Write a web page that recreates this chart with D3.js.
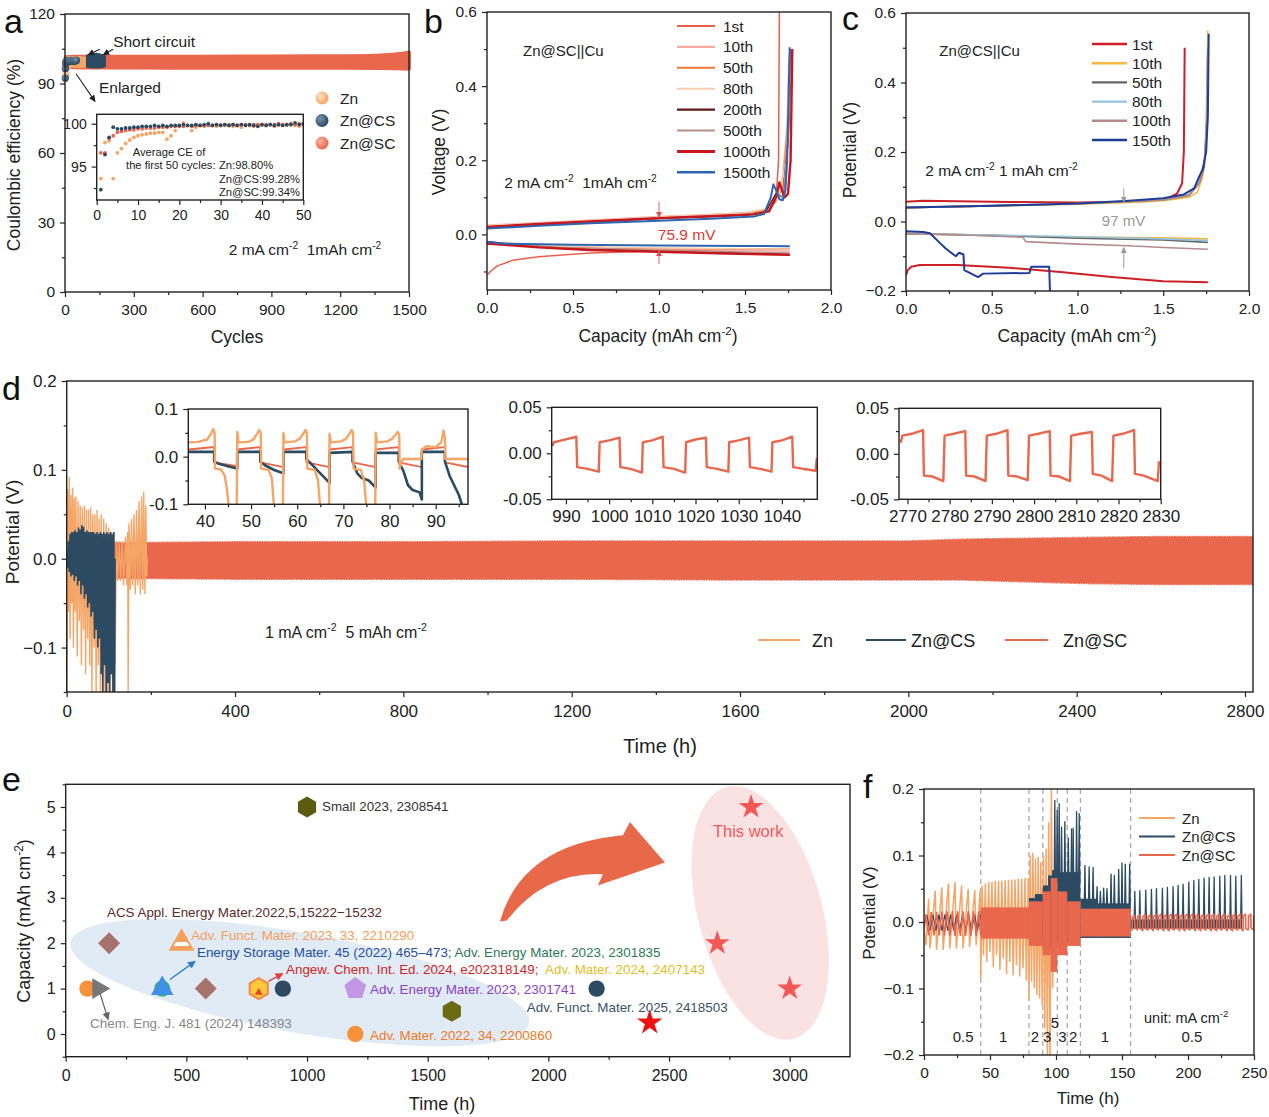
<!DOCTYPE html>
<html lang="en">
<head>
<meta charset="utf-8">
<title>Zn@SC anode cycling</title>
<script src="https://cdn.jsdelivr.net/npm/d3@7"></script>
<style>
  body { margin: 0; background: #fff; }
  svg text { font-family: Arial, "Liberation Sans", sans-serif; }
</style>
</head>
<body>
<svg id="fig" width="1269" height="1117"></svg>
<script>
// ---------------- data: panel a ----------------
const aInsetZn = [93.6, 97.8, 98.0, 93.6, 96.6, 97.1, 97.7, 98.1, 98.4, 98.6, 98.7, 98.8, 98.9, 98.9, 99.0, 99.0, 98.2, 98.6, 99.2, 99.8,
  100.1, 99.8, 99.2, 99.6, 99.8, 99.7, 99.9, 99.8, 99.7, 99.9, 99.8, 99.9, 99.7, 99.8, 99.6, 99.9, 99.8, 99.7, 99.9, 99.8,
  99.8, 99.9, 99.7, 99.8, 99.9, 99.8, 99.9, 99.8, 99.7, 99.9];
const aInsetCs = [92.3, 96.4, 98.4, 99.6, 99.4, 99.4, 99.5, 99.5, 99.6, 99.6, 99.7, 99.7, 99.7, 99.8, 99.7, 99.8, 99.7, 99.8, 99.8, 99.8,
  99.9, 99.8, 99.8, 99.9, 99.8, 99.9, 100.0, 99.8, 99.9, 99.8, 99.9, 99.8, 99.9, 99.8, 99.9, 99.8, 99.9, 99.8, 99.7, 99.9,
  99.8, 99.9, 99.8, 99.9, 99.8, 99.9, 99.9, 100.1, 99.9, 100.0];
const aInsetSc = [96.6, 96.6, 98.3, 98.6, 99.0, 99.1, 99.2, 99.3, 99.3, 99.4, 99.4, 99.5, 99.5, 99.5, 99.6, 99.6, 99.6, 99.7, 99.7, 99.7,
  99.7, 99.8, 99.7, 99.8, 99.8, 99.8, 99.8, 99.8, 99.9, 99.8, 99.9, 99.8, 99.9, 99.8, 99.9, 99.9, 99.8, 99.9, 99.9, 99.9,
  99.9, 99.9, 99.9, 100.0, 99.9, 99.9, 100.0, 99.9, 100.0, 99.9];
const aScT  = [3, 50, 150, 300, 600, 900, 1200, 1350, 1450, 1500];
const aScHi = [101.3, 101.5, 101.5, 101.6, 101.6, 101.7, 101.8, 102.0, 102.6, 103.4];
const aScLo = [97.3, 97.0, 96.9, 96.9, 96.8, 96.8, 96.8, 96.7, 96.6, 96.4];
const aZnT = [10, 60, 100], aZnHi = [101.0, 101.2, 100.8], aZnLo = [97.4, 97.3, 97.8];
const aCsT = [100, 135, 170], aCsHi = [101.8, 102.4, 101.6], aCsLo = [97.6, 97.3, 97.7];
const aSeries = ["Zn", "Zn@CS", "Zn@SC"];

// ---------------- data: panel b (capacity, voltage) ----------------
const bNames = ["1st", "10th", "50th", "80th", "200th", "500th", "1000th", "1500th"];
const bCharge = [
  [[0,0.022],[0.3,0.03],[0.6,0.037],[1.0,0.046],[1.3,0.053],[1.55,0.06],[1.64,0.068],[1.68,0.09],[1.695,0.2],[1.70,0.62]],
  [[0,0.025],[0.5,0.036],[1.0,0.048],[1.5,0.058],[1.63,0.068],[1.69,0.1],[1.72,0.16],[1.745,0.3],[1.755,0.48]],
  [[0,0.02],[0.5,0.033],[1.0,0.045],[1.5,0.055],[1.62,0.065],[1.68,0.1],[1.72,0.12],[1.75,0.3],[1.765,0.5]],
  [[0,0.024],[0.5,0.035],[1.0,0.047],[1.5,0.058],[1.63,0.07],[1.7,0.11],[1.74,0.2],[1.76,0.45]],
  [[0,0.018],[0.5,0.031],[1.0,0.043],[1.5,0.052],[1.62,0.06],[1.68,0.11],[1.72,0.1],[1.75,0.25],[1.77,0.5]],
  [[0,0.02],[0.5,0.032],[1.0,0.044],[1.5,0.053],[1.63,0.062],[1.69,0.11],[1.72,0.1],[1.75,0.25],[1.77,0.5]],
  [[0,0.02],[0.3,0.028],[0.6,0.035],[1.0,0.044],[1.3,0.049],[1.55,0.054],[1.64,0.062],[1.68,0.1],[1.70,0.14],[1.715,0.12],[1.73,0.1],[1.75,0.11],[1.765,0.2],[1.77,0.35],[1.775,0.5]],
  [[0,0.016],[0.3,0.023],[0.6,0.03],[1.0,0.037],[1.3,0.042],[1.55,0.048],[1.61,0.055],[1.65,0.1],[1.665,0.135],[1.68,0.12],[1.70,0.095],[1.72,0.092],[1.735,0.12],[1.745,0.2],[1.755,0.4],[1.76,0.505]]
];
const bDischarge = [
  [[0,-0.11],[0.02,-0.1],[0.06,-0.085],[0.15,-0.07],[0.3,-0.06],[0.6,-0.05],[1.0,-0.045],[1.4,-0.042],[1.76,-0.04]],
  [[0,-0.02],[0.3,-0.03],[1.0,-0.04],[1.76,-0.045]],
  [[0,-0.025],[0.5,-0.035],[1.0,-0.038],[1.76,-0.04]],
  [[0,-0.022],[0.5,-0.033],[1.0,-0.037],[1.76,-0.04]],
  [[0,-0.02],[0.1,-0.025],[0.4,-0.037],[1.0,-0.045],[1.5,-0.05],[1.76,-0.055]],
  [[0,-0.022],[0.4,-0.035],[1.0,-0.043],[1.76,-0.05]],
  [[0,-0.025],[0.1,-0.028],[0.3,-0.035],[0.6,-0.042],[1.0,-0.047],[1.4,-0.052],[1.76,-0.055]],
  [[0,-0.02],[0.1,-0.025],[0.5,-0.028],[1.0,-0.03],[1.5,-0.031],[1.76,-0.032]]
];

// ---------------- data: panel c ----------------
const cNames = ["1st", "10th", "50th", "80th", "100th", "150th"];
const cCharge = [
  [[0,0.057],[0.1,0.06],[0.3,0.058],[0.6,0.056],[1.0,0.055],[1.3,0.056],[1.45,0.06],[1.53,0.068],[1.58,0.08],[1.61,0.11],[1.62,0.2],[1.625,0.5]],
  [[0,0.04],[0.5,0.045],[1.0,0.05],[1.3,0.055],[1.5,0.06],[1.65,0.07],[1.7,0.085],[1.73,0.13],[1.745,0.2],[1.755,0.4],[1.76,0.55]],
  [[0,0.04],[0.5,0.045],[1.0,0.051],[1.5,0.062],[1.65,0.075],[1.71,0.11],[1.74,0.16],[1.755,0.3],[1.76,0.5]],
  [[0,0.04],[0.5,0.046],[1.0,0.052],[1.5,0.063],[1.65,0.078],[1.7,0.11],[1.74,0.17],[1.755,0.3],[1.76,0.5]],
  [[0,0.04],[0.5,0.045],[1.0,0.051],[1.5,0.062],[1.65,0.076],[1.71,0.11],[1.74,0.17],[1.755,0.3],[1.76,0.5]],
  [[0,0.04],[0.5,0.045],[1.0,0.052],[1.3,0.06],[1.5,0.067],[1.62,0.078],[1.68,0.095],[1.71,0.13],[1.73,0.15],[1.75,0.2],[1.76,0.3],[1.765,0.54]]
];
const cDischarge = [
  [[0,-0.155],[0.01,-0.14],[0.03,-0.13],[0.08,-0.125],[0.3,-0.125],[0.6,-0.133],[0.9,-0.145],[1.2,-0.16],[1.5,-0.172],[1.76,-0.175]],
  [[0,-0.035],[0.5,-0.04],[1.0,-0.045],[1.5,-0.047],[1.76,-0.05]],
  [[0,-0.035],[0.5,-0.04],[1.0,-0.048],[1.5,-0.053],[1.76,-0.06]],
  [[0,-0.035],[0.5,-0.039],[1.0,-0.044],[1.5,-0.05],[1.76,-0.055]],
  [[0,-0.035],[0.3,-0.038],[0.68,-0.045],[0.7,-0.058],[1.0,-0.065],[1.3,-0.07],[1.5,-0.075],[1.76,-0.08]],
  [[0,-0.028],[0.1,-0.03],[0.14,-0.034],[0.2,-0.063],[0.23,-0.077],[0.29,-0.1],[0.31,-0.09],[0.335,-0.095],[0.34,-0.14],[0.40,-0.155],[0.42,-0.16],[0.45,-0.15],[0.72,-0.148],[0.73,-0.13],[0.835,-0.13],[0.84,-0.21]]
];

// ---------------- data: panel d (time h, potential V) ----------------
const dScT  = [0, 115, 400, 800, 1200, 1600, 2000, 2130, 2420, 2600, 2819];
const dScHi = [0.017, 0.018, 0.019, 0.019, 0.02, 0.02, 0.02, 0.022, 0.024, 0.025, 0.025];
const dScLo = [-0.022, -0.022, -0.023, -0.023, -0.023, -0.024, -0.024, -0.024, -0.028, -0.029, -0.029];
const dZn = [[0,0.0],[1,-0.15],[2,0.078],[4,-0.06],[6,0.092],[8,-0.09],[10,0.072],[12,-0.05],[14,0.08],[16,-0.1],[18,0.068],[20,-0.06],
  [22,0.07],[25,-0.11],[27,0.065],[30,-0.07],[32,0.06],[35,-0.12],[37,0.058],[40,-0.08],[42,0.06],[45,-0.13],[47,0.055],[50,-0.09],
  [52,0.055],[55,-0.12],[57,0.058],[60,-0.15],[62,0.05],[65,-0.1],[67,0.05],[70,-0.15],[72,0.055],[75,-0.12],[77,0.045],[80,-0.15],
  [82,0.05],[85,-0.15],[88,0.045],[91,-0.15],[94,0.04],[97,-0.15],[100,0.035],[103,-0.15],[106,0.03],[109,-0.15],[112,0.03],[115,-0.12],
  [118,0.02],[121,-0.025],[125,0.02],[128,-0.025],[132,0.02],[135,-0.03],[140,0.025],[143,-0.03],[145,0.03],[146,-0.15],[148,0.04],
  [151,-0.035],[154,0.045],[157,-0.03],[160,0.05],[163,-0.04],[166,0.055],[169,-0.03],[172,0.065],[175,-0.04],[178,0.07],[181,-0.035],
  [183,0.075],[186,-0.04],[188,0.06],[190,-0.02],[192,0.0]];
const dCs = [[0,0.0],[2,-0.01],[4,0.02],[6,-0.015],[8,0.028],[10,-0.02],[12,0.03],[14,-0.018],[16,0.03],[18,-0.025],[20,0.032],[22,-0.02],
  [24,0.03],[26,-0.03],[28,0.035],[30,-0.025],[32,0.033],[34,-0.04],[36,0.038],[38,-0.03],[40,0.036],[42,-0.045],[44,0.03],[46,-0.04],
  [48,0.032],[50,-0.055],[52,0.03],[54,-0.05],[56,0.03],[58,-0.065],[60,0.03],[62,-0.06],[64,0.03],[66,-0.09],[68,0.028],[70,-0.08],
  [72,0.03],[74,-0.1],[76,0.028],[78,-0.09],[80,0.03],[82,-0.13],[84,0.028],[86,-0.15],[88,0.03],[90,-0.12],[92,0.028],[94,-0.15],
  [96,0.03],[98,-0.14],[100,0.028],[102,-0.15],[104,0.03],[106,-0.13],[108,0.028],[110,-0.15],[112,0.03],[114,-0.15],[115,0.0]];
// inset 1 (40-90 h)
const d1Sc = [[36.4,0.015],[42,0.02],[42,-0.012],[47,-0.02],[47,0.015],[52,0.02],[52,-0.012],[57,-0.022],[57,0.015],[62,0.02],[62,-0.012],
  [67,-0.022],[67,0.015],[72,0.02],[72,-0.012],[77,-0.022],[77,0.015],[82,0.02],[82,-0.012],[87,-0.022],[87,0.015],[92,0.02],[92,-0.012],[97,-0.022]];
const d1Cs = [[36.4,0.01],[42,0.01],[42,-0.01],[43,-0.015],[45,-0.02],[47,-0.025],[47,0.01],[52,0.01],[52,-0.01],[53,-0.018],[55,-0.028],
  [57,-0.035],[57,0.01],[62,0.01],[62,-0.005],[63.5,-0.02],[65,-0.035],[67,-0.055],[67,0.008],[72,0.01],[72,-0.01],[73,-0.035],[74,-0.045],
  [75.5,-0.05],[77,-0.065],[77,0.008],[82,0.008],[82,-0.01],[83,-0.03],[84,-0.06],[85,-0.07],[86.5,-0.075],[87,-0.09],[87,0.01],[92,0.01],
  [92,-0.01],[93,-0.04],[94,-0.06],[95,-0.08],[96,-0.11]];
const d1Zn = [[36.4,0.03],[38.5,0.031],[40.5,0.036],[41.3,0.048],[41.8,0.058],[42.1,0.05],[42.2,-0.025],[43.5,-0.027],[44.3,-0.04],[44.8,-0.07],
  [45.2,-0.11],[46.9,-0.11],[47,0.052],[47.3,0.03],[49.5,0.031],[50.5,0.036],[51.3,0.048],[51.8,0.056],[52.1,0.05],[52.2,-0.025],[53.8,-0.028],
  [54.5,-0.045],[55,-0.11],[56.9,-0.11],[57,0.05],[57.3,0.03],[59.5,0.032],[60.5,0.037],[61.3,0.048],[61.8,0.056],[62.1,0.05],[62.2,-0.025],
  [63.8,-0.028],[64.5,-0.05],[65,-0.11],[66.9,-0.11],[67,0.048],[67.3,0.03],[69.5,0.032],[70.5,0.037],[71.3,0.048],[71.8,0.056],[72.1,0.05],
  [72.2,-0.025],[73.8,-0.028],[74.5,-0.05],[75,-0.11],[76.9,-0.11],[77,0.05],[77.3,0.03],[79.5,0.032],[80.5,0.037],[81.3,0.046],[81.8,0.052],
  [82.1,0.045],[82.2,-0.025],[82.6,-0.01],[83,-0.005],[86.9,-0.005],[87,0.015],[88,0.022],[90,0.02],[91.2,0.03],[91.7,0.055],[92,0.04],
  [92.1,-0.005],[97,-0.005]];
// inset 2 (990-1040 h)
const d2Sc = [[986.8,0.008],[987.2,0.012],[989,0.014],[992.4,0.018],[992.6,-0.015],[995,-0.017],[997.6,-0.02],[997.8,0.012],[1000,0.014],
  [1002.4,0.017],[1002.6,-0.015],[1005,-0.017],[1007.6,-0.021],[1007.8,0.012],[1010,0.014],[1012.4,0.018],[1012.6,-0.015],[1015,-0.017],
  [1017.6,-0.021],[1017.8,0.012],[1020,0.015],[1022.4,0.017],[1022.6,-0.015],[1025,-0.017],[1027.6,-0.02],[1027.8,0.012],[1030,0.014],
  [1032.4,0.017],[1032.6,-0.015],[1035,-0.017],[1037.6,-0.02],[1037.8,0.012],[1040,0.014],[1042.4,0.018],[1042.6,-0.015],[1045,-0.017],
  [1047.8,-0.019],[1048.1,-0.005]];
// inset 3 (2770-2830 h)
const d3Sc = [[2768.4,0.012],[2768.8,0.02],[2771,0.022],[2773.7,0.026],[2773.9,-0.024],[2776,-0.025],[2778.5,-0.03],[2778.8,0.02],[2781,0.022],
  [2783.7,0.025],[2783.9,-0.024],[2786,-0.025],[2788.5,-0.03],[2788.8,0.02],[2791,0.022],[2793.7,0.026],[2793.9,-0.024],[2796,-0.025],
  [2798.5,-0.029],[2798.8,0.02],[2801,0.022],[2803.7,0.025],[2803.9,-0.024],[2806,-0.025],[2808.5,-0.03],[2808.8,0.02],[2811,0.022],
  [2813.7,0.024],[2813.9,-0.022],[2816,-0.024],[2818.5,-0.03],[2818.8,0.02],[2821,0.022],[2823.7,0.026],[2823.9,-0.022],[2826,-0.024],
  [2829.3,-0.03],[2829.6,-0.008]];

// ---------------- data: panel e (time h, capacity mAh cm-2) ----------------
const eTime  = [90, 135, 180, 400, 400, 480, 580, 800, 900, 1000, 1200, 1200, 1600, 2200, 2420];
const eCap   = [1, 1, 2, 1, 1, 2, 1, 1, 1, 5, 1, 0, 0.5, 1, 0.25];
const eShape = ["circle", "triRight", "diamond", "circle", "triUp", "triBand", "diamond", "hexFlame", "circle", "hexagon", "pentagon", "circle", "hexagon", "circle", "star"];
const workTime = [2840, 2700, 3000];
const workCap  = [5, 2, 1];
const eRefText = ["Small 2023, 2308541", "ACS Appl. Energy Mater.2022,5,15222\u221215232", "Adv. Funct. Mater. 2023, 33, 2210290",
  "Energy Storage Mater. 45 (2022) 465\u2013473; ", "Adv. Energy Mater. 2023, 2301835", "Angew. Chem. Int. Ed. 2024, e202318149; ",
  " Adv. Mater. 2024, 2407143", "Adv. Energy Mater. 2023, 2301741", "Chem. Eng. J. 481 (2024) 148393",
  "Adv. Mater. 2022, 34, 2200860", "Adv. Funct. Mater. 2025, 2418503"];
const eRefAt = [[1062, 4.91], [171, 2.57], [520, 2.08], [544, 1.70], null, [913, 1.33], null, [1261, 0.89], [101, 0.14], [1261, -0.13], [1911, 0.49]];

// ---------------- data: panel f (time h, potential V) ----------------
const fRateEdges = [43, 79.5, 90, 101, 108.5, 118.5, 156.5];
const fRateLabel = ["0.5", "1", "2", "3", "5", "3", "2", "1", "0.5"];
const fRateT = [29.7, 60, 84, 93.4, 99.2, 104.8, 113, 137, 203];
const fRateV = [-0.18, -0.18, -0.18, -0.18, -0.16, -0.18, -0.18, -0.18, -0.18];
const fZn = [[0,-0.01],[1.5,-0.035],[3.5,0.035],[4.5,-0.04],[8.5,0.047],[9.5,-0.042],[13.5,0.052],[14.5,-0.042],[18.5,0.058],[19.5,-0.04],
  [23.5,0.06],[24.5,-0.04],[28.5,0.055],[29.5,-0.04],[33.5,0.05],[34.5,-0.038],[38.5,0.048],[39.5,-0.035],[42.5,0.046],[43,-0.085],
  [44,0.055],[45,-0.05],[46.5,0.058],[47.5,-0.06],[49,0.06],[50,-0.045],[51.5,0.06],[52.5,-0.068],[54,0.062],[55,-0.05],[56.5,0.062],
  [57.5,-0.072],[59,0.062],[60,-0.055],[61.5,0.063],[62.5,-0.078],[64,0.063],[65,-0.06],[66.5,0.064],[67.5,-0.08],[69,0.064],[70,-0.065],
  [71.5,0.065],[72.5,-0.082],[74,0.065],[75,-0.07],[76.5,0.066],[77.5,-0.088],[79,0.066],[79.5,-0.118],[80.5,0.1],[81.5,-0.09],
  [82.5,0.104],[83.5,-0.1],[84.5,0.095],[85.5,-0.11],[86.5,0.098],[87.5,-0.115],[88.5,0.09],[89.5,-0.125],[90.5,0.1],[91.5,-0.16],
  [92.5,0.11],[93.5,-0.21],[94.5,0.15],[95.5,-0.21],[96.5,0.205],[97.5,-0.1],[98.5,0.04],[99.2,-0.07],[99.8,0.0]];
const fCsEarly = [[0,-0.005],[2.2,0.01],[4.5,-0.013],[6.8,0.011],[9,-0.013],[11.3,0.011],[13.5,-0.013],[15.8,0.011],[18,-0.013],[20.3,0.011],
  [22.5,-0.013],[24.8,0.011],[27,-0.013],[29.3,0.011],[31.5,-0.013],[33.8,0.011],[36,-0.013],[38.3,0.011],[40.5,-0.013],[42.8,0.011]];
const fCsBands = [[43,79.5,0.018,-0.02],[79.5,84,0.036,-0.03],[84,90,0.042,-0.03],[90,94,0.055,-0.04],[94,97,0.07,-0.04],[97,101,0.078,-0.04],
  [101,118.5,0.075,-0.03],[118.5,131,0.035,-0.024],[131,156.5,0.028,-0.024],[156.5,241,0.004,-0.01]];
const fCsSpikeT = [99.1, 100.9, 102.4, 104.2, 106.7, 109.3, 111.8, 113, 115.6, 117.6,
  121.9, 125.1, 128.1, 131.1, 133.6, 136.1, 138.6, 141.7, 144.2, 147.5, 150, 152.5, 155.8,
  159.7, 163.5, 168, 172.3, 176.1, 180.6, 184.4, 188.7, 192.5, 196.3, 200.6, 204.4, 208.2, 212.2, 216, 219.8, 224.1, 227.9, 232.2, 236.2, 240.4];
const fCsSpikeV = [0.183, 0.168, 0.178, 0.143, 0.151, 0.126, 0.14, 0.141, 0.166, 0.163,
  0.085, 0.083, 0.082, 0.053, 0.046, 0.051, 0.05, 0.072, 0.07, 0.079, 0.089, 0.087, 0.087,
  0.046, 0.047, 0.048, 0.049, 0.05, 0.051, 0.052, 0.053, 0.055, 0.057, 0.06, 0.062, 0.064, 0.066, 0.067, 0.068, 0.069, 0.07, 0.07, 0.069, 0.07];
const fCsSpikeBase = [0.06, 0.06, 0.06, 0.06, 0.06, 0.06, 0.06, 0.06, 0.06, 0.06,
  0.03, 0.03, 0.03, 0.025, 0.025, 0.025, 0.025, 0.025, 0.025, 0.025, 0.025, 0.025, 0.025,
  0.004, 0.004, 0.004, 0.004, 0.004, 0.004, 0.004, 0.004, 0.004, 0.004, 0.004, 0.004, 0.004, 0.004, 0.004, 0.004, 0.004, 0.004, 0.004, 0.004, 0.004];
const fScBands = [[43,79.5,0.022,-0.025],[79.5,90,0.031,-0.036],[90,96,0.046,-0.05],[96,101,0.066,-0.075],[101,108.5,0.046,-0.05],
  [108.5,118.5,0.031,-0.036],[118.5,156.5,0.02,-0.022]];
const fScEarly = [[0,-0.01],[1.5,0.012],[3.5,-0.02],[5.5,0.015],[7.5,-0.02],[9.5,0.015],[11.5,-0.02],[13.5,0.016],[15.5,-0.02],[17.5,0.016],
  [19.5,-0.021],[21.5,0.016],[23.5,-0.021],[25.5,0.016],[27.5,-0.021],[29.5,0.016],[31.5,-0.021],[33.5,0.016],[35.5,-0.021],[37.5,0.016],
  [39.5,-0.021],[41.5,0.016],[43,-0.02]];
// 0.5 mA cm-2 tail: start of each charge half-cycle and its plateau levels
const fScLateT  = [157.7, 161.7, 165.7, 169.7, 173.7, 177.7, 181.7, 185.7, 189.7, 193.7, 197.7, 201.7, 205.7, 209.7, 213.7, 217.7,
  221.7, 225.7, 229.7, 233.7, 237.7, 241.7, 245.7, 249.7];
const fScLateHi = [0.010, 0.011, 0.011, 0.011, 0.011, 0.012, 0.011, 0.012, 0.012, 0.011, 0.012, 0.012, 0.012, 0.011, 0.012, 0.012,
  0.012, 0.012, 0.011, 0.012, 0.012, 0.012, 0.012, 0.012];
const fScLateLo = [-0.012, -0.012, -0.013, -0.012, -0.013, -0.012, -0.013, -0.013, -0.012, -0.013, -0.013, -0.012, -0.013, -0.013, -0.012,
  -0.013, -0.013, -0.012, -0.013, -0.013, -0.012, -0.013, -0.012, -0.012];

// ---------------- styles ----------------
const INK = "#222";
const C_ZN = "#f5a566", C_CS = "#2c4b63", C_SC = "#e9674d";
const bColors = ["#ea5f4b", "#f6aaa2", "#f07832", "#f7cdb2", "#5a1c14", "#b59089", "#c8161e", "#2d65b0"];
const bWidths = [1.5, 1.5, 1.5, 1.5, 1.6, 1.5, 2.4, 2];
const cColors = ["#cc1f27", "#f6b843", "#666666", "#94c3e2", "#b48b8b", "#1f3d97"];
const eFill   = ["#f7923a", "#777777", "#a8726c", "#3cb878", "#3f8fe6", "#f5a05a", "#a8726c", "#ffc93a", "#2d4a60", "#5b5b12", "#c497e6", "#f7923a", "#6b6b16", "#2d4a60", "#ee1111"];
const eTextColor = ["#333333", "#5a2a2a", "#f5a05a", "#1f4fa0", "#2e7a55", "#d21f1f", "#e3be1e", "#8a3fc8", "#888888", "#f07a22", "#3b5266"];

const svg = d3.select("#fig");
const defs = svg.append("defs");

// ball gradients for the CE scatter
[["ballZn", "#fde0c4", C_ZN], ["ballCs", "#7a94aa", C_CS], ["ballSc", "#f8b4a4", C_SC]].forEach(([id, hi, base]) => {
  const g = defs.append("radialGradient").attr("id", id).attr("cx", "35%").attr("cy", "35%").attr("r", "65%");
  g.append("stop").attr("offset", "0%").attr("stop-color", hi);
  g.append("stop").attr("offset", "100%").attr("stop-color", base);
});
const band = defs.append("linearGradient").attr("id", "triBand").attr("x1", 0).attr("y1", 0).attr("x2", 0).attr("y2", 1);
[[0, "#f5a05a"], [0.6, "#f5a05a"], [0.6, "#ffffff"], [0.8, "#ffffff"], [0.8, "#f5a05a"], [1, "#f5a05a"]]
  .forEach(([o, c]) => band.append("stop").attr("offset", o).attr("stop-color", c));

function marker(id, color, size) {
  defs.append("marker").attr("id", id).attr("viewBox", "0 0 10 10").attr("refX", 9).attr("refY", 5)
    .attr("markerWidth", size).attr("markerHeight", size).attr("orient", "auto-start-reverse")
    .append("path").attr("d", "M0,0L10,5L0,10Z").attr("fill", color);
}
marker("arK", "#222", 6); marker("arR", "#e05050", 6); marker("arG", "#999", 6);
marker("arB", "#2a7bd0", 6); marker("arRed", "#e04040", 6); marker("arGr", "#666", 6);

function frame(id, box, xd, yd) {
  const x = d3.scaleLinear().domain(xd).range([box.l, box.r]);
  const y = d3.scaleLinear().domain(yd).range([box.b, box.t]);
  const g = svg.append("g");
  defs.append("clipPath").attr("id", id).append("rect")
    .attr("x", box.l).attr("y", box.t).attr("width", box.r - box.l).attr("height", box.b - box.t);
  const plot = g.append("g").attr("clip-path", `url(#${id})`);
  return { g, plot, x, y, box };
}

function axes(P, o) {
  const { g, x, y, box } = P;
  const fs = o.fs || 15;
  const tidy = s => {
    s.select(".domain").remove();
    s.attr("font-size", fs).attr("font-family", null);
    s.selectAll("line").attr("stroke", INK).attr("stroke-width", 1.2);
    s.selectAll("text").attr("fill", INK);
  };
  const none = () => "";
  if (o.xm) g.append("g").attr("transform", `translate(0,${box.b})`)
    .call(d3.axisBottom(x).tickValues(o.xm).tickSize(3).tickFormat(none)).call(tidy);
  g.append("g").attr("transform", `translate(0,${box.b})`)
    .call(d3.axisBottom(x).tickValues(o.xt).tickSize(5).tickPadding(o.xpad ?? 7).tickFormat(o.xf || (d => d))).call(tidy);
  if (o.ym) g.append("g").attr("transform", `translate(${box.l},0)`)
    .call(d3.axisLeft(y).tickValues(o.ym).tickSize(3).tickFormat(none)).call(tidy);
  g.append("g").attr("transform", `translate(${box.l},0)`)
    .call(d3.axisLeft(y).tickValues(o.yt).tickSize(5).tickPadding(o.ypad ?? 5).tickFormat(o.yf || (d => d))).call(tidy);
  g.append("rect").attr("x", box.l).attr("y", box.t).attr("width", box.r - box.l).attr("height", box.b - box.t)
    .attr("fill", "none").attr("stroke", INK).attr("stroke-width", 1.4);
}

// text with ^{...} superscripts
function rich(g, x, y, str, fs, attrs = {}) {
  const t = g.append("text").attr("x", x).attr("y", y).attr("font-size", fs).attr("fill", INK).style("white-space", "pre");
  Object.entries(attrs).forEach(([k, v]) => t.attr(k, v));
  let raised = false;
  str.split(/\^\{([^}]*)\}/).forEach((p, i) => {
    if (i % 2) {
      t.append("tspan").attr("dy", -fs * 0.4).attr("font-size", fs * 0.66).text(p);
      raised = true;
    } else if (p) {
      const s = t.append("tspan").text(p);
      if (raised) { s.attr("dy", fs * 0.4); raised = false; }
    }
  });
  return t;
}
function yTitle(cx, cy, str, fs) {
  rich(svg, 0, 0, str, fs, { "text-anchor": "middle", transform: `translate(${cx},${cy}) rotate(-90)` });
}
function xTitle(cx, cy, str, fs) { rich(svg, cx, cy, str, fs, { "text-anchor": "middle" }); }
function letter(x, y, s) { svg.append("text").attr("x", x).attr("y", y).attr("font-size", 34).attr("fill", "#111").text(s); }

const lineOf = P => d3.line().x(d => P.x(d[0])).y(d => P.y(d[1]));
const f1 = d3.format(".1f");

// ================= panel a =================
const A = frame("clipA", { l: 65, r: 409, t: 14, b: 292 }, [0, 1500], [0, 120]);
const aArea = (T, H, L) => d3.area().curve(d3.curveMonotoneX).x((d, i) => A.x(T[i])).y0((d, i) => A.y(L[i])).y1((d, i) => A.y(H[i]))(T);
A.g.append("path").attr("d", aArea(aScT, aScHi, aScLo)).attr("fill", C_SC).attr("stroke", C_SC).attr("stroke-width", 4).attr("stroke-linejoin", "round");
const aCyc = d3.range(1, aInsetZn.length + 1);
[[aInsetSc, "ballSc"], [aInsetZn, "ballZn"]].forEach(([vals, grad]) => {
  A.g.append("g").selectAll("circle").data(vals).join("circle")
    .attr("cx", (d, i) => A.x(aCyc[i])).attr("cy", d => A.y(d)).attr("r", 3.6).attr("fill", `url(#${grad})`);
});
A.g.append("path").attr("d", aArea(aZnT, aZnHi, aZnLo)).attr("fill", C_ZN).attr("stroke", C_ZN).attr("stroke-width", 3).attr("stroke-linejoin", "round");
A.g.append("path").attr("d", aArea(aCsT, aCsHi, aCsLo)).attr("fill", C_CS).attr("stroke", C_CS).attr("stroke-width", 4).attr("stroke-linejoin", "round");
A.g.append("g").selectAll("circle").data(aInsetCs).join("circle")
  .attr("cx", (d, i) => A.x(aCyc[i])).attr("cy", d => A.y(d)).attr("r", 3.6).attr("fill", "url(#ballCs)");
axes(A, { xt: d3.range(0, 1501, 300), xm: d3.range(150, 1500, 300), yt: d3.range(0, 121, 30), ym: d3.range(15, 120, 30), fs: 15.5 });
A.g.append("text").attr("x", A.x(210)).attr("y", A.y(105.8)).attr("font-size", 15.5).attr("fill", INK).text("Short circuit");
A.g.append("text").attr("x", A.x(148)).attr("y", A.y(85.9)).attr("font-size", 15.5).attr("fill", INK).text("Enlarged");
[[[152, 104.8], [101, 102.4]], [[210, 104.8], [167, 102.4]], [[48, 94.2], [131, 82.3]]].forEach(([p, q]) => {
  A.g.append("line").attr("x1", A.x(p[0])).attr("y1", A.y(p[1])).attr("x2", A.x(q[0])).attr("y2", A.y(q[1]))
    .attr("stroke", INK).attr("stroke-width", 1.1).attr("marker-end", "url(#arK)");
});
rich(A.g, A.x(714), A.y(15.9), "2 mA cm^{-2}  1mAh cm^{-2}", 15.5);
aSeries.forEach((s, i) => {
  A.g.append("circle").attr("cx", 322).attr("cy", 98 + i * 22.5).attr("r", 6.5).attr("fill", `url(#${["ballZn", "ballCs", "ballSc"][i]})`);
  A.g.append("text").attr("x", 340).attr("y", 103.5 + i * 22.5).attr("font-size", 15.5).attr("fill", INK).text(s);
});
// inset a
const AI = frame("clipAI", { l: 96.7, r: 303.3, t: 114.3, b: 200 }, [0, 50], [91.1, 101.1]);
AI.g.insert("rect", ":first-child").attr("x", 96.7).attr("y", 114.3).attr("width", 206.6).attr("height", 85.7).attr("fill", "#fff");
[[aInsetZn, C_ZN], [aInsetSc, C_SC], [aInsetCs, C_CS]].forEach(([vals, col]) => {
  AI.plot.append("g").selectAll("circle").data(vals).join("circle")
    .attr("cx", (d, i) => AI.x(aCyc[i])).attr("cy", d => AI.y(d)).attr("r", 1.9).attr("fill", col);
});
axes(AI, { xt: d3.range(0, 51, 10), xm: d3.range(5, 50, 10), yt: [95, 100], ym: [92.5, 97.5], fs: 14, xpad: 5 });
AI.g.append("text").attr("x", AI.x(17.5)).attr("y", AI.y(96.25)).attr("text-anchor", "middle").attr("font-size", 11.2).attr("fill", INK).text("Average CE of");
AI.g.append("text").attr("x", AI.x(7.1)).attr("y", AI.y(94.7)).attr("font-size", 11.2).attr("fill", INK).text("the first 50 cycles:");
["Zn:98.80%", "Zn@CS:99.28%", "Zn@SC:99.34%"].forEach((s, i) => {
  AI.g.append("text").attr("x", AI.x(29.6)).attr("y", AI.y([94.7, 93.1, 91.6][i])).attr("font-size", 11.2).attr("fill", INK).text(s);
});
yTitle(20, 155, "Coulombic efficiency (%)", 17.5);
xTitle(237, 343, "Cycles", 17.5);
letter(4, 33, "a");

// ================= panel b =================
const B = frame("clipB", { l: 487, r: 831, t: 12, b: 290 }, [0, 2], [-0.15, 0.6]);
bNames.forEach((n, i) => {
  [bDischarge[i], bCharge[i]].forEach(pts => B.plot.append("path").attr("d", lineOf(B)(pts)).attr("fill", "none")
    .attr("stroke", bColors[i]).attr("stroke-width", bWidths[i]).attr("stroke-linejoin", "round"));
});
axes(B, { xt: [0, 0.5, 1, 1.5, 2], xm: [0.25, 0.75, 1.25, 1.75], yt: [0, 0.2, 0.4, 0.6], ym: [-0.1, 0.1, 0.3, 0.5], xf: f1, yf: f1, fs: 15.5 });
bNames.forEach((n, i) => {
  const yy = 26 + i * 20.9;
  B.g.append("line").attr("x1", 677).attr("x2", 715).attr("y1", yy).attr("y2", yy).attr("stroke", bColors[i]).attr("stroke-width", bWidths[i] + 0.6);
  B.g.append("text").attr("x", 723).attr("y", yy + 5.5).attr("font-size", 15.5).attr("fill", INK).text(n);
});
B.g.append("text").attr("x", B.x(0.21)).attr("y", B.y(0.482)).attr("font-size", 15).attr("fill", INK).text("Zn@SC||Cu");
rich(B.g, B.x(0.1), B.y(0.125), "2 mA cm^{-2}  1mAh cm^{-2}", 15.5);
B.g.append("text").attr("x", B.x(0.993)).attr("y", B.y(-0.016)).attr("font-size", 15.5).attr("fill", "#d83c3c").text("75.9 mV");
[[0.088, 0.046], [-0.08, -0.044]].forEach(([a, b]) => B.g.append("line").attr("x1", B.x(1)).attr("x2", B.x(1))
  .attr("y1", B.y(a)).attr("y2", B.y(b)).attr("stroke", "#e06060").attr("stroke-width", 1).attr("marker-end", "url(#arR)"));
yTitle(445, 152, "Voltage (V)", 17.5);
xTitle(658, 342, "Capacity (mAh cm^{-2})", 17.5);
letter(424, 33, "b");

// ================= panel c =================
const C = frame("clipC", { l: 906, r: 1249, t: 13, b: 291 }, [0, 2], [-0.2, 0.6]);
cNames.forEach((n, i) => {
  [cDischarge[i], cCharge[i]].forEach(pts => C.plot.append("path").attr("d", lineOf(C)(pts)).attr("fill", "none")
    .attr("stroke", cColors[i]).attr("stroke-width", i === 0 || i === 5 ? 2 : 1.6).attr("stroke-linejoin", "round"));
});
axes(C, { xt: [0, 0.5, 1, 1.5, 2], xm: [0.25, 0.75, 1.25, 1.75], yt: [-0.2, 0, 0.2, 0.4, 0.6], ym: [-0.1, 0.1, 0.3, 0.5], xf: f1, yf: f1, fs: 15.5 });
cNames.forEach((n, i) => {
  const yy = 44 + i * 19.2;
  C.g.append("line").attr("x1", 1092).attr("x2", 1127).attr("y1", yy).attr("y2", yy).attr("stroke", cColors[i]).attr("stroke-width", 2.4);
  C.g.append("text").attr("x", 1132).attr("y", yy + 5.5).attr("font-size", 15.5).attr("fill", INK).text(n);
});
C.g.append("text").attr("x", C.x(0.194)).attr("y", C.y(0.475)).attr("font-size", 15).attr("fill", INK).text("Zn@CS||Cu");
rich(C.g, C.x(0.112), C.y(0.131), "2 mA cm^{-2} 1 mAh cm^{-2}", 15.5);
C.g.append("text").attr("x", C.x(1.142)).attr("y", C.y(-0.014)).attr("font-size", 15).attr("fill", "#999").text("97 mV");
[[0.095, 0.056], [-0.135, -0.075]].forEach(([a, b]) => C.g.append("line").attr("x1", C.x(1.27)).attr("x2", C.x(1.27))
  .attr("y1", C.y(a)).attr("y2", C.y(b)).attr("stroke", "#999").attr("stroke-width", 1).attr("marker-end", "url(#arG)"));
yTitle(856, 150, "Potential (V)", 17.5);
xTitle(1077, 342, "Capacity (mAh cm^{-2})", 17.5);
letter(842, 30, "c");

// ================= panel d =================
const D = frame("clipD", { l: 66.7, r: 1253, t: 381, b: 692 }, [0, 2819], [-0.15, 0.2]);
D.plot.append("path")
  .attr("d", d3.area().x((d, i) => D.x(dScT[i])).y0((d, i) => D.y(dScLo[i])).y1((d, i) => D.y(dScHi[i]))(dScT))
  .attr("fill", C_SC).attr("stroke", C_SC).attr("stroke-width", 1.5).attr("stroke-dasharray", "1.5,1");
D.plot.append("path").attr("d", lineOf(D)(dZn)).attr("fill", "none").attr("stroke", C_ZN).attr("stroke-width", 1.4);
D.plot.append("path").attr("d", lineOf(D)(dCs)).attr("fill", "none").attr("stroke", C_CS).attr("stroke-width", 1.6);
axes(D, { xt: d3.range(0, 2801, 400), xm: d3.range(200, 2800, 400), yt: [-0.1, 0, 0.1, 0.2], ym: [-0.15, -0.05, 0.05, 0.15], yf: f1, fs: 17, xpad: 8 });
rich(D.g, D.x(471), D.y(-0.089), "1 mA cm^{-2}  5 mAh cm^{-2}", 16);
[["Zn", C_ZN, 758, 800, 812], ["Zn@CS", C_CS, 866, 906, 911], ["Zn@SC", C_SC, 1005, 1048, 1063]].forEach(([n, col, x1, x2, tx]) => {
  D.g.append("line").attr("x1", x1).attr("x2", x2).attr("y1", 640).attr("y2", 640).attr("stroke", col).attr("stroke-width", 2);
  D.g.append("text").attr("x", tx).attr("y", 646.5).attr("font-size", 18).attr("fill", INK).text(n);
});
yTitle(19, 532, "Potential (V)", 19);
xTitle(660, 753, "Time (h)", 20);
letter(2, 400, "d");

function inset(id, box, xd, yd, series, o) {
  const P = frame(id, box, xd, yd);
  P.g.insert("rect", ":first-child").attr("x", box.l).attr("y", box.t).attr("width", box.r - box.l).attr("height", box.b - box.t).attr("fill", "#fff");
  series.forEach(([pts, col, w]) => P.plot.append("path").attr("d", lineOf(P)(pts)).attr("fill", "none")
    .attr("stroke", col).attr("stroke-width", w).attr("stroke-linejoin", "round"));
  axes(P, o);
  return P;
}
inset("clipD1", { l: 188.3, r: 468, t: 409, b: 504.3 }, [36.4, 97], [-0.1, 0.1],
  [[d1Sc, C_SC, 2], [d1Cs, C_CS, 2.6], [d1Zn, C_ZN, 2.4]],
  { xt: d3.range(40, 91, 10), xm: d3.range(45, 96, 10), yt: [-0.1, 0, 0.1], ym: [-0.05, 0.05], yf: d => d.toFixed(1), fs: 17, xpad: 6 });
inset("clipD2", { l: 551.7, r: 817.3, t: 407.3, b: 499.3 }, [986.7, 1048.2], [-0.05, 0.05],
  [[d2Sc, C_SC, 2.4]],
  { xt: d3.range(990, 1041, 10), xm: d3.range(995, 1046, 10), yt: [-0.05, 0, 0.05], ym: [-0.025, 0.025], yf: d => d.toFixed(2), fs: 17, xpad: 6 });
inset("clipD3", { l: 899, r: 1160.7, t: 408.3, b: 499.3 }, [2768, 2830], [-0.05, 0.05],
  [[d3Sc, C_SC, 2.4]],
  { xt: d3.range(2770, 2831, 10), xm: d3.range(2775, 2830, 10), yt: [-0.05, 0, 0.05], ym: [-0.025, 0.025], yf: d => d.toFixed(2), fs: 17, xpad: 6 });

// ================= panel e =================
const E = frame("clipE", { l: 65.7, r: 850, t: 784.3, b: 1056.7 }, [0, 3250], [-0.5, 5.5]);
const dxPx = v => E.x(v) - E.x(0), dyPx = v => E.y(0) - E.y(v);
E.plot.append("ellipse").attr("cx", 0).attr("cy", 0).attr("rx", dxPx(965)).attr("ry", dyPx(1.1))
  .attr("transform", `translate(${E.x(970)},${E.y(1.13)}) rotate(10)`).attr("fill", "#c9dbee").attr("opacity", 0.55);
E.plot.append("ellipse").attr("cx", 0).attr("cy", 0).attr("rx", dxPx(257)).attr("ry", dyPx(2.87))
  .attr("transform", `translate(${E.x(2878)},${E.y(2.67)}) rotate(-15)`).attr("fill", "#f9d6d6").attr("opacity", 0.7);
// big curved arrow
const ap = d3.path();
const E2 = (t, c) => [E.x(t), E.y(c)];
ap.moveTo(...E2(1799, 2.48));
ap.quadraticCurveTo(...E2(1890, 4.18), ...E2(2309, 4.38));
ap.lineTo(...E2(2338, 4.67)); ap.lineTo(...E2(2483, 3.78)); ap.lineTo(...E2(2205, 3.27)); ap.lineTo(...E2(2226, 3.52));
ap.quadraticCurveTo(...E2(1985, 3.58), ...E2(1828, 2.5));
ap.closePath();
E.plot.append("path").attr("d", ap.toString()).attr("fill", "#e8694a");

function polyPath(n, r, rot) {
  return "M" + d3.range(n).map(i => { const a = rot + i * 2 * Math.PI / n; return [r * Math.sin(a), -r * Math.cos(a)]; }).join("L") + "Z";
}
const shapePath = {
  circle: d3.symbol(d3.symbolCircle, 210)(),
  triRight: polyPath(3, 12, Math.PI / 2),
  triUp: polyPath(3, 13, 0),
  triBand: polyPath(3, 13, 0),
  diamond: polyPath(4, 11, 0),
  hexagon: polyPath(6, 10.5, 0),
  hexFlame: polyPath(6, 10.5, 0),
  pentagon: polyPath(5, 11.5, 0),
  star: d3.symbol(d3.symbolStar, 200)()
};
eTime.forEach((t, i) => {
  const s = eShape[i];
  E.g.append("path").attr("d", shapePath[s]).attr("transform", `translate(${E.x(t)},${E.y(eCap[i])})`)
    .attr("fill", s === "triBand" ? "url(#triBand)" : eFill[i])
    .attr("stroke", s === "hexFlame" ? "#f0884a" : s === "triBand" ? "#f5a05a" : "none").attr("stroke-width", 2);
  if (s === "hexFlame") E.g.append("path").attr("d", polyPath(3, 4.5, 0))
    .attr("transform", `translate(${E.x(t)},${E.y(eCap[i]) + 4})`).attr("fill", "#e8402a");
});
workTime.forEach((t, i) => E.g.append("path").attr("d", d3.symbol(d3.symbolStar, 190)())
  .attr("transform", `translate(${E.x(t)},${E.y(workCap[i])})`).attr("fill", "#f25858"));
// reference labels (some continue on the same line in a second colour)
let lastText = null;
eRefText.forEach((s, i) => {
  if (eRefAt[i]) {
    lastText = E.g.append("text").attr("x", E.x(eRefAt[i][0])).attr("y", E.y(eRefAt[i][1])).attr("font-size", 13.4).style("white-space", "pre");
  }
  lastText.append("tspan").attr("fill", eTextColor[i]).text(s);
});
E.g.append("text").attr("x", E.x(2682)).attr("y", E.y(4.33)).attr("font-size", 16.5).attr("fill", "#f05a5a").text("This work");
[[[432, 1.2], [536, 1.6], "#2a7bd0", "arB"], [[839, 1.16], [899, 1.33], "#e04040", "arRed"], [[142, 0.9], [176, 0.32], "#666", "arGr"]]
  .forEach(([p, q, col, m]) => E.g.append("line").attr("x1", E.x(p[0])).attr("y1", E.y(p[1])).attr("x2", E.x(q[0])).attr("y2", E.y(q[1]))
    .attr("stroke", col).attr("stroke-width", 1.3).attr("marker-end", `url(#${m})`));
axes(E, { xt: d3.range(0, 3001, 500), xm: d3.range(250, 3250, 500), yt: d3.range(0, 6), ym: d3.range(-0.5, 5.6, 1), fs: 16, xpad: 8 });
yTitle(30, 921, "Capacity (mAh cm^{-2})", 18);
xTitle(442, 1110, "Time (h)", 18);
letter(2, 791, "e");

// ================= panel f =================
const F = frame("clipF", { l: 924, r: 1254, t: 789, b: 1055 }, [0, 250], [-0.2, 0.2]);
fRateEdges.forEach(t => F.plot.append("line").attr("x1", F.x(t)).attr("x2", F.x(t)).attr("y1", F.box.t).attr("y2", F.box.b)
  .attr("stroke", "#aaa").attr("stroke-width", 1.3).attr("stroke-dasharray", "5,4"));
const fBand = (bands, col) => bands.forEach(([t0, t1, hi, lo]) => F.plot.append("rect")
  .attr("x", F.x(t0)).attr("width", F.x(t1) - F.x(t0)).attr("y", F.y(hi)).attr("height", F.y(lo) - F.y(hi)).attr("fill", col));
F.plot.append("path").attr("d", lineOf(F)(fZn)).attr("fill", "none").attr("stroke", C_ZN).attr("stroke-width", 1.5);
F.plot.append("path").attr("d", lineOf(F)(fCsEarly)).attr("fill", "none").attr("stroke", C_CS).attr("stroke-width", 1.3);
fBand(fCsBands, C_CS);
// Zn@CS voltage spikes: narrow peaks rising from their local base
F.plot.append("g").selectAll("path").data(fCsSpikeT).join("path")
  .attr("d", (t, i) => lineOf(F)([[t - 0.45, fCsSpikeBase[i]], [t, fCsSpikeV[i]], [t + 0.45, fCsSpikeBase[i]]]))
  .attr("fill", C_CS).attr("stroke", C_CS).attr("stroke-width", 1.3).attr("stroke-linejoin", "round");
F.plot.append("path").attr("d", lineOf(F)(fScEarly)).attr("fill", "none").attr("stroke", C_SC).attr("stroke-width", 1.6);
fBand(fScBands, C_SC);
// 0.5 mA cm-2 tail drawn as a square wave: charge plateau for 2 h, then discharge plateau
const lateWave = [[156.5, fScLateLo[0]]];
fScLateT.forEach((t, i) => {
  lateWave.push([t, fScLateLo[i]], [t + 0.15, fScLateHi[i] - 0.003], [t + 1.9, fScLateHi[i]], [t + 2.05, fScLateLo[i] + 0.003]);
});
F.plot.append("path").attr("d", lineOf(F)(lateWave)).attr("fill", "none").attr("stroke", C_SC).attr("stroke-width", 1.6).attr("stroke-linejoin", "round");
axes(F, { xt: d3.range(0, 251, 50), xm: d3.range(25, 250, 50), yt: [-0.2, -0.1, 0, 0.1, 0.2], ym: [-0.15, -0.05, 0.05, 0.15], yf: f1, fs: 15.5 });
fRateLabel.forEach((s, i) => F.g.append("text").attr("x", F.x(fRateT[i])).attr("y", F.y(fRateV[i])).attr("text-anchor", "middle")
  .attr("font-size", 15).attr("fill", INK).text(s));
rich(F.g, F.x(166.7), F.y(-0.152), "unit: mA cm^{-2}", 14.5);
[["Zn", C_ZN], ["Zn@CS", C_CS], ["Zn@SC", C_SC]].forEach(([n, col], i) => {
  const yy = 818 + i * 18.5;
  F.g.append("line").attr("x1", 1139).attr("x2", 1175).attr("y1", yy).attr("y2", yy).attr("stroke", col).attr("stroke-width", 2);
  F.g.append("text").attr("x", 1182).attr("y", yy + 5.5).attr("font-size", 15).attr("fill", INK).text(n);
});
yTitle(875, 913, "Potential (V)", 17);
xTitle(1088, 1104, "Time (h)", 17);
letter(863, 798, "f");
</script>
</body>
</html>
